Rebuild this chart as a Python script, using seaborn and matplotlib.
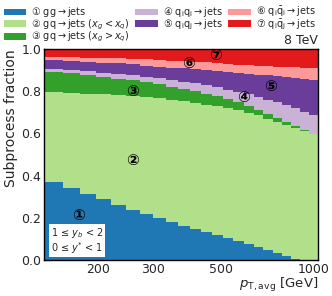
import numpy as np
import matplotlib
matplotlib.use('Agg')
import matplotlib.pyplot as plt
import seaborn as sns

# pT,avg bin edges [GeV] for 1 <= yb < 2, 0 <= y* < 1
pt_edges = [133, 153, 174, 196, 220, 245, 272, 300, 330, 362, 395, 430, 468,
            507, 548, 592, 638, 686, 737, 790, 846, 905, 967, 1032]

# subprocess fractions per bin
frac_gg = [0.371, 0.341, 0.313, 0.287, 0.261, 0.237, 0.218, 0.200, 0.180, 0.163, 0.147, 0.133,
           0.118, 0.104, 0.090, 0.076, 0.062, 0.047, 0.033, 0.019, 0.007, 0.002, 0.001]
frac_gq_lo = [0.425, 0.452, 0.476, 0.498, 0.520, 0.539, 0.553, 0.566, 0.579, 0.589, 0.598, 0.604,
              0.611, 0.616, 0.621, 0.622, 0.623, 0.623, 0.622, 0.621, 0.619, 0.609, 0.595]
frac_gq_hi = [0.095, 0.091, 0.087, 0.083, 0.079, 0.075, 0.071, 0.067, 0.063, 0.059, 0.055, 0.051,
              0.047, 0.043, 0.039, 0.033, 0.028, 0.023, 0.019, 0.015, 0.009, 0.004, 0.001]
frac_qiqi = [0.014, 0.016, 0.018, 0.020, 0.022, 0.024, 0.026, 0.028, 0.031, 0.034, 0.037, 0.040,
             0.043, 0.045, 0.048, 0.054, 0.060, 0.067, 0.073, 0.080, 0.084, 0.088, 0.091]
frac_qiqj = [0.043, 0.045, 0.046, 0.048, 0.050, 0.052, 0.053, 0.055, 0.059, 0.064, 0.068, 0.073,
             0.078, 0.082, 0.087, 0.096, 0.106, 0.115, 0.125, 0.134, 0.145, 0.155, 0.166]
frac_qiqbari = [0.014, 0.017, 0.019, 0.022, 0.025, 0.027, 0.030, 0.032, 0.033, 0.034, 0.035, 0.036,
                0.037, 0.038, 0.039, 0.041, 0.042, 0.044, 0.045, 0.047, 0.050, 0.052, 0.055]
frac_qiqbarj = [0.038, 0.038, 0.041, 0.042, 0.043, 0.046, 0.049, 0.052, 0.055, 0.057, 0.060, 0.063,
                0.066, 0.072, 0.076, 0.078, 0.079, 0.081, 0.083, 0.084, 0.086, 0.090, 0.091]

labels = [r'① gg$\rightarrow$jets',
          r'② gq$\rightarrow$jets ($x_g < x_q$)',
          r'③ gq$\rightarrow$jets ($x_g > x_q$)',
          r'④ $\mathrm{q_i q_i}$$\rightarrow$jets',
          r'⑤ $\mathrm{q_i q_j}$$\rightarrow$jets',
          r'⑥ $\mathrm{q_i \bar{q}_i}$$\rightarrow$jets',
          r'⑦ $\mathrm{q_i \bar{q}_j}$$\rightarrow$jets']
circles = ['①', '②', '③', '④', '⑤', '⑥', '⑦']
# label positions (pT, fraction)
label_pt = [172, 257, 257, 589, 721, 392, 480]
label_y = [0.21, 0.47, 0.80, 0.768, 0.82, 0.93, 0.967]

sns.set_style('ticks')
plt.rcParams['font.family'] = ['DejaVu Sans', 'Noto Sans CJK JP']
plt.rcParams['xtick.direction'] = 'in'
plt.rcParams['ytick.direction'] = 'in'

pal = sns.color_palette('Paired')
colors = [pal[1], pal[2], pal[3], pal[8], pal[9], pal[4], pal[5]]

fig = plt.figure(figsize=(3.32, 2.96), dpi=100)
ax = fig.add_axes([0.1325, 0.1216, 0.8255, 0.7128])

series = [frac_gg, frac_gq_lo, frac_gq_hi, frac_qiqi, frac_qiqj, frac_qiqbari, frac_qiqbarj]
bottom = np.zeros(len(frac_gg))
handles = []
for vals, col, lab in zip(series, colors, labels):
    vals = np.array(vals)
    top = bottom + vals
    y0 = np.append(bottom, bottom[-1])
    y1 = np.append(top, top[-1])
    h = ax.fill_between(pt_edges, y0, y1, step='post', color=col, lw=0, label=lab)
    handles.append(h)
    bottom = top

ax.set_xscale('log')
ax.set_xlim(pt_edges[0], pt_edges[-1])
ax.set_ylim(0, 1)
ax.set_xticks([200, 300, 500, 1000])
ax.set_xticklabels(['200', '300', '500', '1000'])
ax.set_xticks([400, 600, 700, 800, 900], minor=True)
ax.xaxis.set_minor_formatter(matplotlib.ticker.NullFormatter())
ax.set_yticks([0, 0.2, 0.4, 0.6, 0.8, 1.0])
ax.tick_params(axis='both', which='both', top=True, right=True, labelsize=9, pad=2)
ax.tick_params(axis='both', which='major', length=4)
ax.tick_params(axis='both', which='minor', length=2.5)
for s in ax.spines.values():
    s.set_linewidth(1.0)
    s.set_color('black')

ax.set_ylabel('Subprocess fraction', fontsize=10, loc='top', labelpad=2)
ax.set_xlabel(r'$p_{\mathrm{T,avg}}$ [GeV]', fontsize=9.5, loc='right', labelpad=0)

for c, xp, yp in zip(circles, label_pt, label_y):
    ax.text(xp, yp, c, fontsize=11, fontweight='bold', ha='center', va='center', color='black')

ax.text(0.025, 0.02, '1 ≤ $y_b$ < 2\n0 ≤ $y^{*}$ < 1', transform=ax.transAxes, fontsize=7,
        ha='left', va='bottom', linespacing=1.0,
        bbox=dict(facecolor='white', edgecolor='none', pad=1.2))
ax.text(1.0, 1.01, '8 TeV', transform=ax.transAxes, ha='right', va='bottom', fontsize=9)

fig.legend(handles=handles, loc='upper left', bbox_to_anchor=(0.0, 0.995), ncol=3,
           frameon=False, fontsize=7, handlelength=2.3, handleheight=0.7,
           labelspacing=-0.2, columnspacing=0.6, handletextpad=0.5, borderaxespad=0.2,
           borderpad=0.2)

fig.savefig('out.png', dpi=100)
